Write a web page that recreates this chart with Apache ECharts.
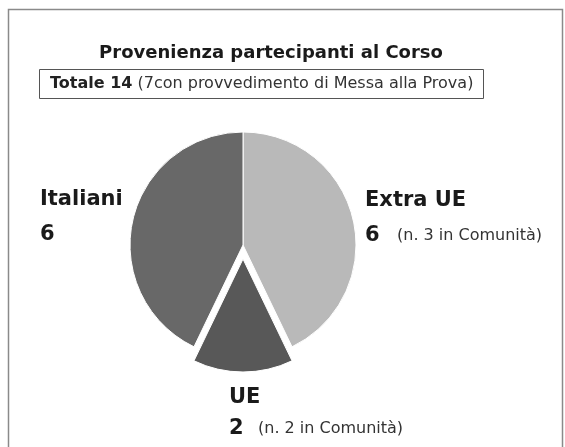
<!DOCTYPE html>
<html><head><meta charset="utf-8">
<script src="https://cdn.jsdelivr.net/npm/echarts@6/dist/echarts.min.js"></script>
<style>html,body{margin:0;padding:0;background:#fff}#c{width:565px;height:447px}</style>
</head><body><div id="c"></div>
<script>
const titleText = 'Provenienza partecipanti al Corso';
const totalBold = 'Totale 14';
const totalRest = ' (7con provvedimento di Messa alla Prova)';
const categories = ['Extra UE', 'UE', 'Italiani'];
const values = [6, 2, 6];
const notes = ['(n. 3 in Comunità)', '(n. 2 in Comunità)', ''];
const colors = ['#b9b9b9', '#585858', '#686868'];
// [x, name middle y, value middle y, note x]
const labelPos = [[365, 201, 235.5, 397], [229, 397.5, 429, 258], [40, 199.5, 235, 0]];
const FONT = 'DejaVu Sans';

const labelGraphics = [];
categories.forEach((c, i) => {
  const p = labelPos[i];
  labelGraphics.push({type: 'text', x: p[0], y: p[1], style: {text: c, verticalAlign: 'middle',
    font: 'bold 21px "' + FONT + '"', fill: '#1a1a1a'}});
  labelGraphics.push({type: 'text', x: p[0], y: p[2], style: {text: String(values[i]), verticalAlign: 'middle',
    font: 'bold 21px "' + FONT + '"', fill: '#1a1a1a'}});
  if (notes[i]) labelGraphics.push({type: 'text', x: p[3], y: p[2], style: {text: notes[i], verticalAlign: 'middle',
    font: '16px "' + FONT + '"', fill: '#333'}});
});

const chart = echarts.init(document.getElementById('c'), null, {renderer: 'canvas'});
chart.setOption({
  backgroundColor: '#fff',
  animation: false,
  graphic: [
    {type: 'rect', shape: {x: 8.5, y: 9.5, width: 554, height: 460}, style: {fill: 'none', stroke: '#8a8a8a', lineWidth: 1.5}, z: 0},
    {type: 'rect', shape: {x: 39.5, y: 69.5, width: 444, height: 29}, style: {fill: 'none', stroke: '#555', lineWidth: 1}},
    {type: 'text', x: 50, y: 84, style: {
      text: '{b|' + totalBold + '}{r|' + totalRest + '}',
      verticalAlign: 'middle',
      rich: {b: {fontFamily: FONT, fontWeight: 'bold', fontSize: 16, fill: '#222'}, r: {fontFamily: FONT, fontSize: 16, fill: '#333'}}
    }}
  ].concat(labelGraphics),
  title: {text: titleText, left: 266, top: 39, textAlign: 'center',
    textStyle: {fontFamily: FONT, fontWeight: 'bold', fontSize: 18, color: '#1a1a1a'}},
  series: [{
    type: 'pie',
    center: [243, 245],
    radius: 113,
    startAngle: 90,
    clockwise: true,
    selectedMode: 'multiple',
    selectedOffset: 14,
    itemStyle: {borderColor: '#fff', borderWidth: 1},
    label: {show: false},
    labelLine: {show: false},
    emphasis: {disabled: true},
    data: categories.map((c, i) => ({name: c, value: values[i], selected: c === 'UE', itemStyle: {color: colors[i]}}))
  }]
});
</script></body></html>
